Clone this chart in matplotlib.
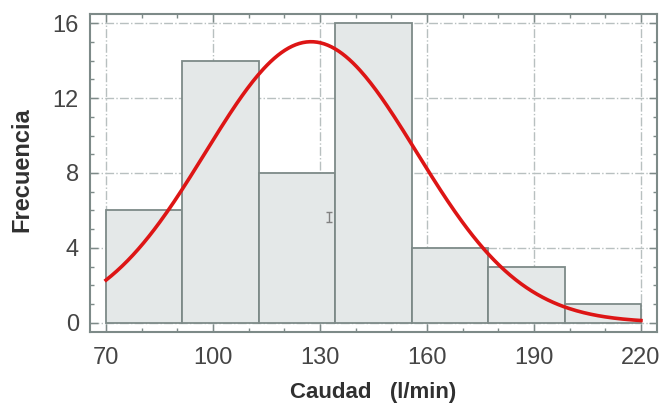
import numpy as np
import matplotlib
matplotlib.use("Agg")
import matplotlib.pyplot as plt
from matplotlib.ticker import MultipleLocator

plt.rcParams['font.family'] = ['Liberation Sans', 'DejaVu Sans']

# histogram data
bin_edges = [70, 91.43, 112.86, 134.29, 155.71, 177.14, 198.57, 220]
freqs = [6, 14, 8, 16, 4, 3, 1]

# fitted normal curve parameters
mu = 127.5
sigma = 29.6
n_obs = sum(freqs)

x_ticks = [70, 100, 130, 160, 190, 220]
y_ticks = [0, 4, 8, 12, 16]

# small marker seen in the middle bar
marker_x = 132.5
marker_y = 5.65

frame_col = "#7d8a88"
text_col = "#454545"

fig = plt.figure(figsize=(6.61, 4.07), dpi=100, facecolor="white")
ax = fig.add_axes([90 / 661, 1 - 332 / 407, 567 / 661, 318 / 407])

widths = np.diff(bin_edges)
ax.bar(bin_edges[:-1], freqs, width=widths, align='edge', color="#e4e8e8",
       edgecolor=frame_col, linewidth=1.3, zorder=2)

bw = widths.mean()
xs = np.linspace(70, 220, 300)
ys = n_obs * bw / (sigma * np.sqrt(2 * np.pi)) * np.exp(-0.5 * ((xs - mu) / sigma) ** 2)
ax.plot(xs, ys, color="#dd1515", linewidth=2.6, zorder=3)

ax.errorbar([marker_x], [marker_y], yerr=0.28, fmt='none', ecolor="#808080",
            elinewidth=1, capsize=2.2, zorder=4)

ax.set_xlim(65.5, 224.5)
ax.set_ylim(-0.5, 16.5)
ax.set_xticks(x_ticks)
ax.set_yticks(y_ticks)
ax.xaxis.set_minor_locator(MultipleLocator(10))
ax.yaxis.set_minor_locator(MultipleLocator(1))
ax.tick_params(which='both', direction='in', top=True, right=True,
               colors=frame_col, labelcolor=text_col, labelsize=17)
ax.tick_params(which='major', length=6, width=1)
ax.tick_params(which='minor', length=3, width=1)
ax.tick_params(axis='x', pad=11)
ax.tick_params(axis='y', pad=8)

ax.grid(True, which='major', color="#b8c0c0", linestyle='-.', linewidth=1, zorder=0)
ax.set_axisbelow(True)

for sp in ax.spines.values():
    sp.set_color(frame_col)
    sp.set_linewidth(1.5)

ax.set_xlabel("Caudad   (l/min)", fontsize=16, fontweight='bold', color="#303030", labelpad=9)
ax.set_ylabel("Frecuencia", fontsize=17, fontweight='bold', color="#303030")
ax.yaxis.set_label_coords(-0.099, 0.51)

fig.savefig("out.png", dpi=100, facecolor="white")
